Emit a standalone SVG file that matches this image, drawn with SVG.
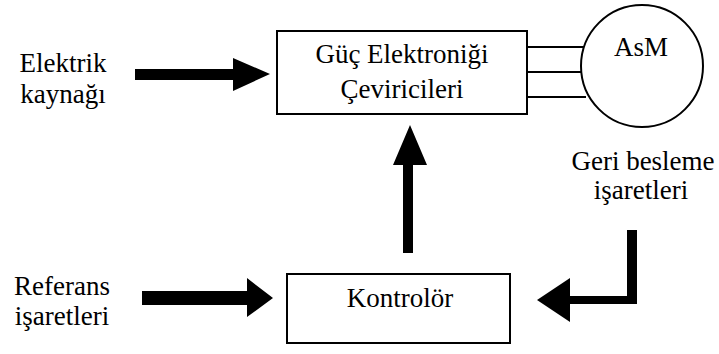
<svg xmlns="http://www.w3.org/2000/svg" width="719" height="354" viewBox="0 0 719 354" font-family="Liberation Serif, DejaVu Serif, serif">
<style>
text{font-family:'Liberation Serif','DejaVu Serif',serif;font-size:27px;fill:#000;text-anchor:middle}
.box{fill:#fff;stroke:#000;stroke-width:2}
.wire{stroke:#000;stroke-width:2;fill:none}
.arr{fill:#000;stroke:none}
</style>
<rect width="719" height="354" fill="#fff"/>
<g id="connectors">
<path class="arr" d="M135,69 H233 V58 L270,74 L233,91 V80 H135 Z"/>
<path class="arr" d="M142,291 H247 V278 L273,298 L247,317 V305 H142 Z"/>
<path class="arr" d="M403,253 V165 H393 L410,125 L427,165 H413 V253 Z"/>
<path class="arr" d="M637,230 V304 H570 V322 L537,300 L570,278 V296 H627 V230 Z"/>
<path class="wire" d="M527,47 H586 M527,72 H581 M527,97 H586"/>
</g>
<g id="label-elektrik">
<text x="63" y="72">Elektrik</text>
<text x="63" y="103">kaynağı</text>
</g>
<g id="label-referans">
<text x="62" y="295">Referans</text>
<text x="62" y="325">işaretleri</text>
</g>
<g id="label-geri">
<text x="643" y="170">Geri besleme</text>
<text x="641" y="199">işaretleri</text>
</g>
<g id="node-guc">
<rect class="box" x="277" y="31" width="250" height="83"/>
<text x="402" y="63">Güç Elektroniği</text>
<text x="402" y="98">Çeviricileri</text>
</g>
<g id="node-asm">
<circle class="box" cx="642" cy="66" r="61"/>
<text x="641" y="56">AsM</text>
</g>
<g id="node-kontrolor">
<rect class="box" x="287" y="274" width="223" height="69"/>
<text x="400" y="307">Kontrolör</text>
</g>
</svg>
